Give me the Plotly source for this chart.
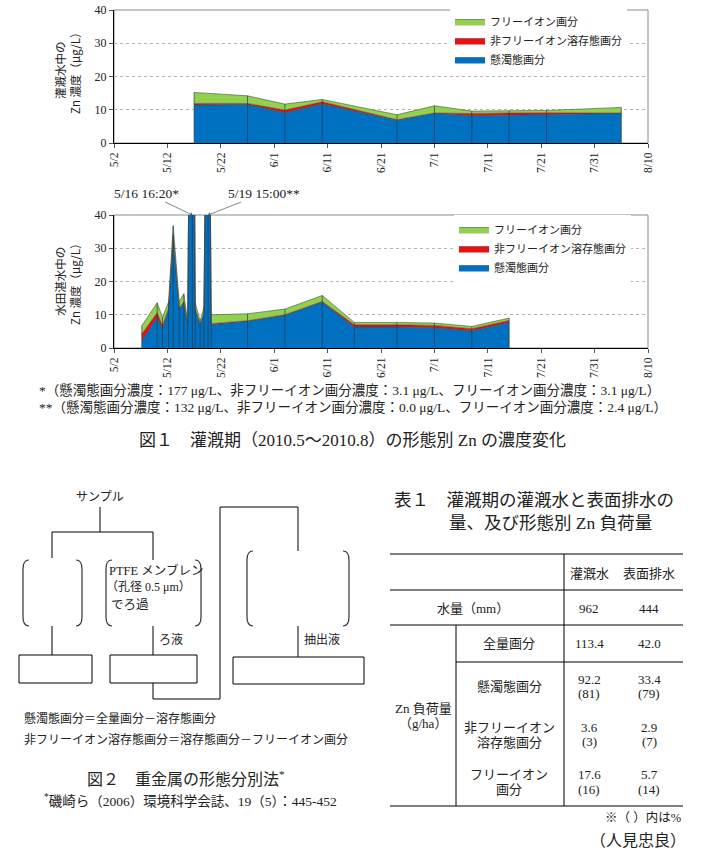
import plotly.graph_objects as go
import pandas as pd

W, H = 705, 855

# ---------------- data ----------------
series_names = ["懸濁態画分", "非フリーイオン溶存態画分", "フリーイオン画分"]
series_colors = ["#0070C0", "#E81010", "#92D050"]

# irrigation water (top chart)
irr_dates = ["2010-05-17", "2010-05-27", "2010-06-03", "2010-06-10", "2010-06-24",
             "2010-07-01", "2010-07-08", "2010-07-15", "2010-07-22", "2010-08-05"]
irr_susp = [11.4, 11.6, 9.1, 11.7, 6.8, 8.9, 8.2, 8.4, 8.6, 8.9]
irr_nonfree = [0.5, 0.3, 0.8, 0.7, 0.2, 0.1, 0.7, 0.7, 0.5, 0.1]
irr_free = [3.3, 2.3, 1.8, 0.7, 1.5, 2.2, 0.7, 0.7, 0.7, 1.7]

# paddy ponded water (bottom chart)
pad_dates = ["2010-05-07 05:00", "2010-05-10 02:00", "2010-05-11 02:00", "2010-05-12 05:00",
             "2010-05-13 02:00", "2010-05-14 05:00", "2010-05-15 02:00", "2010-05-15 19:00",
             "2010-05-16 16:20", "2010-05-17 05:00", "2010-05-18 03:00", "2010-05-18 20:00",
             "2010-05-19 15:00", "2010-05-20 05:00", "2010-05-27", "2010-06-03",
             "2010-06-10", "2010-06-16", "2010-06-24", "2010-07-01", "2010-07-08", "2010-07-15"]
pad_susp = [2.2, 9.2, 5.7, 11.5, 33.5, 11.6, 13.6, 7.0, 177.0, 11.5, 7.0, 10.3,
            132.0, 7.0, 8.0, 9.8, 13.8, 6.3, 6.3, 6.1, 5.1, 7.7]
pad_nonfree = [2.0, 1.4, 1.0, 0.3, 0.5, 0.3, 0.3, 0.2, 3.1, 0.3, 0.2, 0.2,
               0.0, 0.3, 0.2, 0.2, 0.2, 0.7, 0.7, 0.7, 0.7, 0.6]
pad_free = [2.5, 3.0, 2.5, 2.0, 2.8, 2.2, 2.4, 0.8, 3.1, 1.8, 1.0, 1.6,
            2.4, 2.7, 2.1, 1.7, 1.8, 0.7, 0.7, 0.7, 0.7, 0.7]

x_start, x_end = "2010-05-02", "2010-08-10"
tick_dates = list(pd.date_range(x_start, x_end, freq="10D"))
tick_labels = [f"{d.month}/{d.day}" for d in tick_dates]
y_ticks = [0, 10, 20, 30, 40]

peak_labels = ["5/16 16:20*", "5/19 15:00**"]
peak_times = ["2010-05-16 16:20", "2010-05-19 15:00"]

# table values
tbl_cols = ["灌漑水", "表面排水"]
water_mm = [962, 444]
load_total = [113.4, 42.0]
load_susp = [92.2, 33.4]
load_nonfree = [3.6, 2.9]
load_free = [17.6, 5.7]
pct_susp = [81, 79]
pct_nonfree = [3, 7]
pct_free = [16, 14]

SERIF = "Liberation Serif, Noto Sans CJK JP"
SANS = "Noto Sans CJK JP, DejaVu Sans"
TXT = "#222222"


def X(px):
    return px / W


def Y(py):
    return 1 - py / H


fig = go.Figure()


def add_chart(dates, susp, nonfree, free, xa, ya, leg, group):
    vals = [susp, nonfree, free]
    for name, color, v in zip(series_names, series_colors, vals):
        fig.add_trace(go.Scatter(
            x=dates, y=v, name=name, mode="lines", stackgroup=group,
            fillcolor=color, line=dict(color="rgba(60,60,60,0.9)", width=0.6),
            xaxis=xa, yaxis=ya, legend=leg, hoverinfo="skip"))
    totals = [a + b + c for a, b, c in zip(susp, nonfree, free)]
    dx, dy = [], []
    for d, t in zip(dates, totals):
        dx += [d, d, None]
        dy += [0, t, None]
    fig.add_trace(go.Scatter(x=dx, y=dy, mode="lines", showlegend=False,
                             line=dict(color="rgba(40,55,75,0.85)", width=0.8),
                             xaxis=xa, yaxis=ya, hoverinfo="skip"))


add_chart(irr_dates, irr_susp, irr_nonfree, irr_free, "x", "y", "legend", "a")
add_chart(pad_dates, pad_susp, pad_nonfree, pad_free, "x2", "y2", "legend2", "b")

xcommon = dict(type="date", range=[x_start, x_end], tickmode="array",
               tickvals=tick_dates, ticktext=tick_labels, tickangle=-90,
               ticks="outside", ticklen=4, tickcolor="#555", showline=True,
               linecolor="black", linewidth=1, showgrid=False, zeroline=False,
               automargin=False,
               tickfont=dict(family=SERIF, size=11.5, color=TXT))
ycommon = dict(range=[0, 40], tickvals=y_ticks, showgrid=True, gridcolor="#b5b5b5",
               griddash="dot", gridwidth=1, ticks="outside", ticklen=4, tickcolor="#555",
               showline=True, linecolor="black", linewidth=1, zeroline=False,
               automargin=False,
               tickfont=dict(family=SERIF, size=12, color=TXT))

fig.update_layout(
    width=W, height=H, margin=dict(l=0, r=0, t=0, b=0, autoexpand=False),
    paper_bgcolor="white", plot_bgcolor="white",
    xaxis=dict(domain=[X(114), X(648)], anchor="y", **xcommon),
    yaxis=dict(domain=[Y(143), Y(10)], anchor="x", **ycommon),
    xaxis2=dict(domain=[X(114), X(648)], anchor="y2", **xcommon),
    yaxis2=dict(domain=[Y(348), Y(215)], anchor="x2", **ycommon),
    legend=dict(x=X(450), y=Y(7), xanchor="left", yanchor="top", bgcolor="white",
                traceorder="reversed", itemwidth=30, tracegroupgap=0,
                font=dict(family=SANS, size=11, color=TXT)),
    legend2=dict(x=X(454), y=Y(215), xanchor="left", yanchor="top", bgcolor="white",
                 traceorder="reversed", itemwidth=30, tracegroupgap=0,
                 font=dict(family=SANS, size=11, color=TXT)),
    showlegend=True,
)

shapes = []
annotations = []

# plot area borders
for xr, yr in [("x domain", "y domain"), ("x2 domain", "y2 domain")]:
    shapes.append(dict(type="rect", xref=xr, yref=yr, x0=0, x1=1, y0=0, y1=1,
                       line=dict(color="#8a8a8a", width=1), layer="below"))

# y-axis titles
annotations.append(dict(text="灌漑水中の<br>Zn 濃度（μg/L）", x=X(67), y=Y(70), xref="paper",
                        yref="paper", xanchor="center", yanchor="middle",
                        textangle=-90, showarrow=False,
                        font=dict(family=SANS, size=11.5, color=TXT)))
annotations.append(dict(text="水田湛水中の<br>Zn 濃度（μg/L）", x=X(67), y=Y(281), xref="paper",
                        yref="paper", xanchor="center", yanchor="middle",
                        textangle=-90, showarrow=False,
                        font=dict(family=SANS, size=11.5, color=TXT)))

# peak annotations
for lab, t, ax in zip(peak_labels, peak_times, [-46, 56]):
    annotations.append(dict(text=lab, x=t, y=40, xref="x2", yref="y2", showarrow=True,
                            ax=ax, ay=-22, arrowhead=1, arrowsize=1, arrowwidth=0.7,
                            arrowcolor="#555", font=dict(family=SERIF, size=13.5, color=TXT)))

# footnotes & caption of fig 1
fn1 = "*（懸濁態画分濃度：177 μg/L、非フリーイオン画分濃度：3.1 μg/L、フリーイオン画分濃度：3.1 μg/L）"
fn2 = "**（懸濁態画分濃度：132 μg/L、非フリーイオン画分濃度：0.0 μg/L、フリーイオン画分濃度：2.4 μg/L）"


def txt(s, x, y, size=12, anchor="center", family=SERIF):
    annotations.append(dict(text=s, x=X(x), y=Y(y), xref="paper", yref="paper",
                            xanchor=anchor, yanchor="middle", showarrow=False,
                            font=dict(family=family, size=size, color=TXT)))


txt(fn1, 37, 390, 13.5, "left")
txt(fn2, 37, 407, 13.5, "left")
txt("図１　灌漑期（2010.5～2010.8）の形態別 Zn の濃度変化", 352, 440, 17)


# ---------------- flow chart (Fig. 2) ----------------
def line(x0, y0, x1, y1, w=1):
    shapes.append(dict(type="line", xref="paper", yref="paper", x0=X(x0), y0=Y(y0),
                       x1=X(x1), y1=Y(y1), line=dict(color="black", width=w)))


def rect(x0, y0, x1, y1):
    shapes.append(dict(type="rect", xref="paper", yref="paper", x0=X(x0), y0=Y(y0),
                       x1=X(x1), y1=Y(y1), line=dict(color="black", width=1)))


def bracket(x, y0, y1, left=True):
    d = 6 if left else -6
    p = (f"M {X(x + d)} {Y(y0)} Q {X(x)} {Y(y0)} {X(x)} {Y(y0 + 9)} "
         f"L {X(x)} {Y(y1 - 9)} Q {X(x)} {Y(y1)} {X(x + d)} {Y(y1)}")
    shapes.append(dict(type="path", xref="paper", yref="paper", path=p,
                       line=dict(color="#333", width=1.2)))


txt("サンプル", 100, 495, 12, family=SANS)
line(100, 507, 100, 532)
line(52, 532, 153, 532)
line(52, 532, 52, 558)
line(153, 532, 153, 560)
bracket(23, 560, 626, True)
bracket(82, 560, 626, False)
bracket(106, 560, 626, True)
bracket(201, 560, 626, False)
bracket(247, 551, 626, True)
bracket(349, 551, 626, False)
line(52, 626, 52, 655)
line(153, 626, 153, 655)
line(298, 626, 298, 657)
rect(19, 655, 92, 683)
rect(110, 655, 197, 683)
rect(233, 657, 364, 684)
line(153, 683, 153, 699)
line(153, 699, 220, 699)
line(220, 699, 220, 507)
line(220, 507, 298, 507)
line(298, 507, 298, 551)
txt("PTFE メンブレン", 107, 570, 12.5, "left")
txt("（孔径 0.5 μm）", 104, 587, 12, "left")
txt("でろ過", 109, 603, 12.5, "left", family=SANS)
txt("ろ液", 157, 638, 12, "left", family=SANS)
txt("抽出液", 302, 638, 12, "left", family=SANS)
txt("懸濁態画分＝全量画分－溶存態画分", 22, 717, 12, "left", family=SANS)
txt("非フリーイオン溶存態画分＝溶存態画分－フリーイオン画分", 22, 738, 12, "left", family=SANS)
txt("図２　重金属の形態分別法<sup>*</sup>", 186, 778, 16)
txt("<sup>*</sup>磯崎ら（2006）環境科学会誌、19（5）：445-452", 190, 800, 13.5)

# ---------------- table 1 ----------------
txt("表１　灌漑期の灌漑水と表面排水の", 392, 500, 17.5, "left")
txt("量、及び形態別 Zn 負荷量", 447, 523, 17.5, "left")
line(390, 554, 683, 554)
line(390, 590, 683, 590)
line(390, 625, 683, 625)
line(456, 662, 683, 662)
line(390, 806, 683, 806)
line(564, 554, 564, 806)
line(456, 625, 456, 806)

col_x = [589, 649]
for cx, name in zip(col_x, tbl_cols):
    txt(name, cx, 573, 13)
txt("水量（mm）", 473, 608, 13)
txt("全量画分", 509, 643, 13)
txt("懸濁態画分", 509, 686, 13)
txt("非フリーイオン", 509, 727, 13)
txt("溶存態画分", 509, 742, 13)
txt("フリーイオン", 509, 774, 13)
txt("画分", 509, 789, 13)
txt("Zn 負荷量", 423, 708, 13)
txt("（g/ha）", 423, 723, 13)
for i, cx in enumerate(col_x):
    txt(f"{water_mm[i]}", cx, 608, 13)
    txt(f"{load_total[i]:.1f}", cx, 643, 13)
    txt(f"{load_susp[i]:.1f}", cx, 679, 13)
    txt(f"({pct_susp[i]})", cx, 693, 13)
    txt(f"{load_nonfree[i]:.1f}", cx, 727, 13)
    txt(f"({pct_nonfree[i]})", cx, 741, 13)
    txt(f"{load_free[i]:.1f}", cx, 774, 13)
    txt(f"({pct_free[i]})", cx, 789, 13)
txt("※（ ）内は%", 683, 818, 12.5, "right")
txt("（人見忠良）", 688, 840, 16, "right")

fig.update_layout(shapes=shapes, annotations=annotations)
fig.write_html("out.html", config={"displayModeBar": False},
               post_script="document.body.style.margin='0';document.body.style.padding='0';")
